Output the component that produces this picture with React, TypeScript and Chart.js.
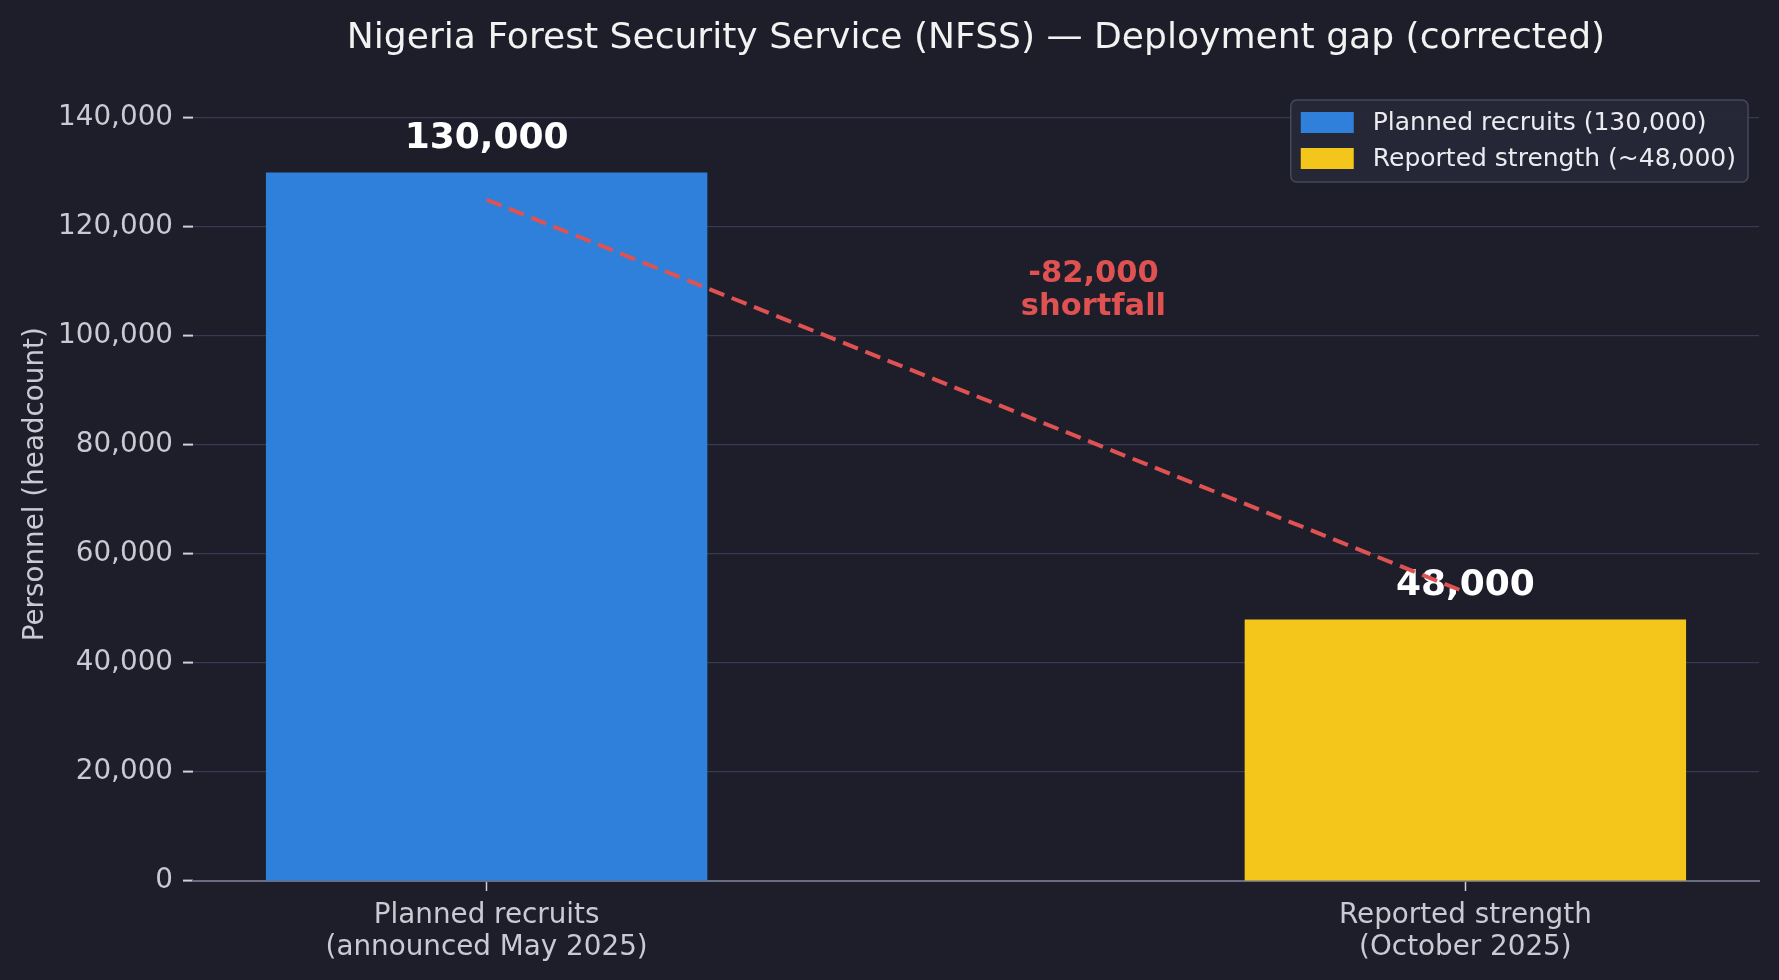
import React, { useEffect, useRef } from 'react';
import { Chart, registerables } from 'chart.js';

Chart.register(...registerables);

const chartTitle = 'Nigeria Forest Security Service (NFSS) — Deployment gap (corrected)';
const yAxisTitle = 'Personnel (headcount)';
const categories: string[][] = [
  ['Planned recruits', '(announced May 2025)'],
  ['Reported strength', '(October 2025)'],
];
const seriesLabels = ['Planned recruits (130,000)', 'Reported strength (~48,000)'];
const values = [130000, 48000];
const valueLabels = ['130,000', '48,000'];
const barColors = ['#2f80da', '#f4c51b'];
const gapLineValues = [125000, 53000];
const gapText = ['-82,000', 'shortfall'];
const gapTextAt = { x: 0.62, y: 103900 };
const yMax = 145600;
const yTickValues = [0, 20000, 40000, 60000, 80000, 100000, 120000, 140000];

const FONT = '"DejaVu Sans", "Noto Sans", sans-serif';
const BG = '#1d1e2a';

const overlayPlugin = {
  id: 'overlay',
  beforeDatasetsDraw(chart: any) {
    const { ctx, scales } = chart;
    const xs = scales.x;
    const ys = scales.y;
    ctx.save();
    ctx.font = `bold 36px ${FONT}`;
    ctx.fillStyle = '#ffffff';
    ctx.textAlign = 'center';
    ctx.textBaseline = 'alphabetic';
    values.forEach((v, i) => {
      ctx.fillText(valueLabels[i], xs.getPixelForValue(i), ys.getPixelForValue(v) - 24.5);
    });
    ctx.restore();
  },
  afterDatasetsDraw(chart: any) {
    const { ctx, scales } = chart;
    const xs = scales.x;
    const ys = scales.y;
    ctx.save();
    ctx.font = `bold 30.5px ${FONT}`;
    ctx.fillStyle = '#e05252';
    ctx.textAlign = 'center';
    ctx.textBaseline = 'alphabetic';
    const px = xs.getPixelForValue(gapTextAt.x);
    const py = ys.getPixelForValue(gapTextAt.y);
    ctx.fillText(gapText[0], px, py - 33);
    ctx.fillText(gapText[1], px, py);
    ctx.restore();
  },
  afterDraw(chart: any) {
    const { ctx, chartArea } = chart;
    ctx.save();
    // title
    ctx.font = `36.1px ${FONT}`;
    ctx.fillStyle = '#f2f2f2';
    ctx.textAlign = 'center';
    ctx.textBaseline = 'alphabetic';
    ctx.fillText(chartTitle, (chartArea.left + chartArea.right) / 2, 48);

    // legend
    const bars = chart.data.datasets.filter((d: any) => d.type === 'bar');
    ctx.font = `25px ${FONT}`;
    const tw = Math.max(...bars.map((d: any) => ctx.measureText(d.label).width));
    const padL = 10, sw = 53, sh = 21, gap = 19, padR = 12, rowH = 36;
    const w = padL + sw + gap + tw + padR;
    const h = 82;
    const right = chartArea.right - 11;
    const left = right - w;
    const top = chartArea.top + 12.5;
    ctx.beginPath();
    ctx.roundRect(left, top, w, h, 6);
    ctx.fillStyle = 'rgba(38,40,55,0.92)';
    ctx.fill();
    ctx.lineWidth = 1.5;
    ctx.strokeStyle = '#45485c';
    ctx.stroke();
    bars.forEach((d: any, i: number) => {
      const cy = top + 22.5 + i * rowH;
      ctx.fillStyle = d.backgroundColor;
      ctx.fillRect(left + padL, cy - sh / 2, sw, sh);
      ctx.fillStyle = '#ececf0';
      ctx.textAlign = 'left';
      ctx.textBaseline = 'middle';
      ctx.fillText(d.label, left + padL + sw + gap, cy + 1);
    });
    ctx.restore();
  },
};

export default function App() {
  const canvasRef = useRef<HTMLCanvasElement | null>(null);

  useEffect(() => {
    const canvas = canvasRef.current;
    if (!canvas) return;
    const tickFont = { family: FONT, size: 27.8 };
    const chart = new Chart(canvas, {
      type: 'bar',
      data: {
        datasets: [
          {
            type: 'line',
            label: 'gap',
            data: gapLineValues.map((y, i) => ({ x: i, y })),
            borderColor: '#e05252',
            borderWidth: 4,
            borderDash: [16, 8],
            pointRadius: 0,
            fill: false,
            order: 0,
          } as any,
          ...values.map((v, i) => ({
            type: 'bar',
            label: seriesLabels[i],
            data: [{ x: i, y: v }],
            backgroundColor: barColors[i],
            borderWidth: 0,
            grouped: false,
            barPercentage: 0.451,
            categoryPercentage: 1,
            order: 1,
          })) as any,
        ],
      },
      options: {
        animation: false,
        responsive: false,
        devicePixelRatio: 1,
        layout: { padding: { top: 87.5, right: 20, left: 0, bottom: 0 } },
        plugins: {
          legend: { display: false },
          tooltip: { enabled: false },
          title: { display: false },
        },
        scales: {
          x: {
            type: 'linear',
            min: -0.3,
            max: 1.3,
            offset: false,
            afterFit: (s: any) => { s.height = 99; },
            afterBuildTicks: (s: any) => { s.ticks = categories.map((_, i) => ({ value: i })); },
            grid: {
              offset: false,
              drawOnChartArea: false,
              drawTicks: true,
              tickLength: 10,
              tickColor: '#cfd0d8',
              tickWidth: 1.5,
            },
            border: { display: true, color: '#6a6d80', width: 2 },
            ticks: {
              autoSkip: false,
              maxRotation: 0,
              minRotation: 0,
              padding: 8.5,
              color: '#c9cad3',
              font: { ...tickFont, lineHeight: 1.15 },
              callback: (v: any) => categories[Math.round(Number(v))] ?? '',
            },
          },
          y: {
            type: 'linear',
            min: 0,
            max: yMax,
            afterFit: (s: any) => { s.width = 193; },
            afterBuildTicks: (s: any) => { s.ticks = yTickValues.map((value) => ({ value })); },
            grid: {
              color: 'rgba(90,92,130,0.45)',
              lineWidth: 1.2,
              tickLength: 10,
              tickColor: '#cfd0d8',
              tickWidth: 2,
            },
            border: { display: false },
            ticks: {
              autoSkip: false,
              padding: 10,
              color: '#c9cad3',
              font: tickFont,
              callback: (v: any) => Number(v).toLocaleString('en-US'),
            },
            title: {
              display: true,
              text: yAxisTitle,
              color: '#c9cad3',
              font: { family: FONT, size: 27.8 },
              padding: { top: 19, bottom: 0 },
            },
          },
        },
      },
      plugins: [overlayPlugin],
    } as any);
    return () => chart.destroy();
  }, []);

  return (
    <div style={{ position: 'fixed', left: 0, top: 0, width: 1779, height: 980, background: BG }}>
      <canvas ref={canvasRef} width={1779} height={980} style={{ display: 'block' }} />
    </div>
  );
}
